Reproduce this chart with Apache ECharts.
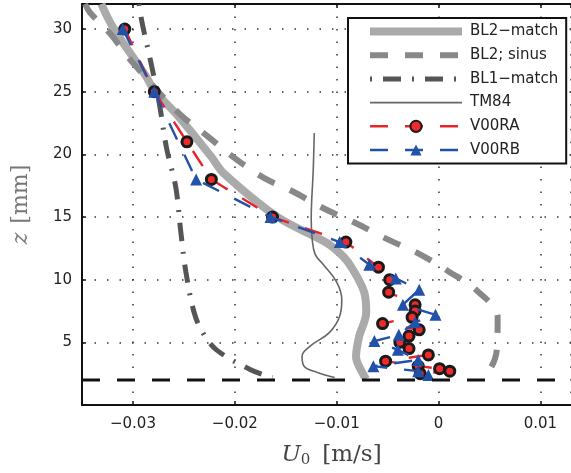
<!DOCTYPE html>
<html>
<head>
<meta charset="utf-8">
<script src="https://cdn.jsdelivr.net/npm/echarts@6/dist/echarts.min.js"></script>
<style>
  html, body { margin: 0; padding: 0; background: #ffffff; }
  #chart { width: 571px; height: 473px; }
</style>
</head>
<body>
<div id="chart"></div>
<script>
// Mean velocity profiles U0(z): model curves and measurements, [U0 (m/s), z (mm)]
const bl2Match = [
  [-0.0331, 32.0], [-0.0320, 30.2], [-0.0287, 26.2], [-0.0279, 25.1], [-0.0255, 23.0],
  [-0.0223, 19.8], [-0.0211, 18.5], [-0.0158, 15.0], [-0.0110, 12.95], [-0.0093, 11.8],
  [-0.0084, 10.8], [-0.0073, 9.0], [-0.0071, 7.4], [-0.0078, 5.45], [-0.0081, 3.85],
  [-0.0075, 2.6], [-0.0071, 2.05]
];
const bl2Sinus = [
  [-0.0347, 32.0], [-0.0342, 31.3], [-0.0323, 29.7], [-0.0300, 27.3], [-0.0255, 23.3],
  [-0.0226, 21.4], [-0.0200, 19.7], [-0.0171, 18.1], [-0.0142, 17.0], [-0.0113, 15.7],
  [-0.0081, 14.5], [-0.0052, 13.3], [-0.0020, 12.1], [0.0009, 10.7], [0.0038, 9.1],
  [0.0058, 7.0], [0.0057, 4.3], [0.0047, 2.3], [0.0042, 2.0]
];
const bl1Match = [
  [-0.0294, 32.0], [-0.0291, 30.5], [-0.0282, 27.2], [-0.0274, 24.0], [-0.0267, 20.5],
  [-0.0258, 17.4], [-0.0253, 13.8], [-0.0248, 10.6], [-0.0240, 7.4], [-0.0232, 5.86],
  [-0.0218, 4.4], [-0.0184, 2.8], [-0.0163, 2.2]
];
const tm84 = [
  [-0.0122, 21.7], [-0.0123, 18.8], [-0.0125, 14.8], [-0.0124, 13.2], [-0.0121, 12.0],
  [-0.0113, 11.2], [-0.0100, 9.8], [-0.0095, 8.4], [-0.0097, 7.1], [-0.0107, 5.8],
  [-0.0126, 4.7], [-0.0134, 3.9], [-0.0132, 3.1], [-0.0119, 2.6], [-0.0102, 2.2]
];
const v00ra = [
  [-0.0308, 30.0], [-0.0279, 25.0], [-0.0247, 21.0], [-0.0223, 18.0], [-0.0163, 15.0],
  [-0.0091, 13.0], [-0.0059, 11.0], [-0.0048, 10.0], [-0.0049, 9.0], [-0.0023, 8.0],
  [-0.0023, 7.5], [-0.0026, 7.0], [-0.0055, 6.5], [-0.0019, 6.0], [-0.0029, 5.5],
  [-0.0038, 5.0], [-0.0029, 4.5], [-0.0010, 4.0], [-0.0052, 3.5], [-0.0020, 3.1],
  [0.0001, 2.9], [0.0011, 2.7], [-0.0018, 2.5]
];
const v00rb = [
  [-0.0310, 30.0], [-0.0279, 25.0], [-0.0238, 18.0], [-0.0165, 15.0], [-0.0097, 13.0],
  [-0.0068, 11.2], [-0.0042, 10.1], [-0.0019, 9.2], [-0.0035, 8.0], [-0.0003, 7.2],
  [-0.0023, 6.6], [-0.0039, 5.6], [-0.0063, 5.1], [-0.0040, 4.4], [-0.0020, 3.6],
  [-0.0064, 3.1], [-0.0020, 2.7], [-0.0010, 2.4]
];
// Bed level (z = 2 mm), spanning the whole axis
const bedLine = [[-0.035, 2], [0.013, 2]];

const xMin = -0.035, xMax = 0.013;
const zMin = 0, zMax = 32;

const tickFont = { fontFamily: 'DejaVu Sans', fontSize: 15, color: '#222' };
const dotted = { color: '#333', width: 1.5, type: [1.5, 11] };

function fmtU(v) {
  if (Math.abs(v) < 1e-9) return '0';
  return (v < 0 ? '\u2212' : '') + Math.abs(v).toFixed(2);
}

const chart = echarts.init(document.getElementById('chart'), null, { renderer: 'canvas' });

const noSymbolItem = { color: 'rgba(0,0,0,0)', borderWidth: 0 };

chart.setOption({
  animation: false,
  backgroundColor: '#ffffff',
  grid: { left: 82, top: 4, bottom: 68, right: -7, containLabel: false },
  legend: {
    orient: 'vertical',
    left: 348, top: 18,
    selectedMode: false,
    itemWidth: 92, itemHeight: 14, itemGap: 8.7,
    padding: [6, 8, 6, 18],
    borderColor: '#111', borderWidth: 2, backgroundColor: '#ffffff',
    lineStyle: { width: 'inherit', type: 'inherit', color: 'inherit', cap: 'butt' },
    textStyle: { fontFamily: 'DejaVu Sans', fontSize: 15, color: '#222', lineHeight: 14, padding: [0, 0, 0, 3] },
    data: ['BL2\u2212match', 'BL2; sinus', 'BL1\u2212match', 'TM84', 'V00RA', 'V00RB']
  },
  xAxis: [{
    type: 'value', min: xMin, max: xMax, splitNumber: 5, minInterval: 0.01, maxInterval: 0.01,
    position: 'bottom',
    axisLine: { show: true, onZero: false, lineStyle: { color: '#111', width: 2 } },
    axisTick: { show: true, inside: true, length: 4, lineStyle: { color: '#111', width: 1.5 } },
    axisLabel: { ...tickFont, margin: 12, formatter: fmtU, showMinLabel: false, showMaxLabel: false },
    splitLine: { show: true, lineStyle: dotted },
    name: '{i|U}{s|0}{n|[m/s]}',
    nameLocation: 'middle', nameGap: 38,
    nameTextStyle: {
      padding: [0, 0, 0, 10],
      rich: {
        i: { fontFamily: 'DejaVu Serif', fontStyle: 'italic', fontSize: 23, color: '#444' },
        s: { fontFamily: 'DejaVu Serif', fontSize: 15, color: '#444', padding: [10, 0, 0, 0] },
        n: { fontFamily: 'DejaVu Serif', fontSize: 23, color: '#444', padding: [0, 0, 0, 12] }
      }
    }
  }, {
    type: 'value', min: xMin, max: xMax, splitNumber: 5, minInterval: 0.01, maxInterval: 0.01,
    position: 'top',
    axisLine: { show: true, onZero: false, lineStyle: { color: '#111', width: 2 } },
    axisTick: { show: true, inside: true, length: 4, lineStyle: { color: '#111', width: 1.5 } },
    axisLabel: { show: false },
    splitLine: { show: false }
  }],
  yAxis: {
    type: 'value', min: zMin, max: zMax, interval: 5,
    axisLine: { show: true, onZero: false, lineStyle: { color: '#111', width: 2 } },
    axisTick: { show: true, inside: true, length: 4, lineStyle: { color: '#111', width: 1.5 } },
    axisLabel: { ...tickFont, margin: 10, showMinLabel: false, showMaxLabel: false },
    splitLine: { show: true, lineStyle: dotted },
    name: '{i|z}{n|[mm]}',
    nameLocation: 'middle', nameRotate: 90, nameGap: 50,
    nameTextStyle: {
      rich: {
        i: { fontFamily: 'DejaVu Serif', fontStyle: 'italic', fontSize: 22, color: '#777' },
        n: { fontFamily: 'DejaVu Serif', fontSize: 22, color: '#777', padding: [0, 0, 0, 9] }
      }
    }
  },
  series: [
    {
      name: 'BL2\u2212match', type: 'line', data: bl2Match, smooth: 0.35, symbol: 'none',
      lineStyle: { color: '#aaaaaa', width: 8 }, itemStyle: noSymbolItem, z: 2
    },
    {
      name: 'BL2; sinus', type: 'line', data: bl2Sinus, smooth: 0.35, symbol: 'none',
      lineStyle: { color: '#888888', width: 6, type: [18, 17], cap: 'butt' }, itemStyle: noSymbolItem, z: 3
    },
    {
      name: 'BL1\u2212match', type: 'line', data: bl1Match, smooth: 0.35, symbol: 'none',
      lineStyle: { color: '#555555', width: 5, type: [2, 11, 18, 11], cap: 'butt' }, itemStyle: noSymbolItem, z: 4
    },
    {
      name: 'TM84', type: 'line', data: tm84, smooth: 0.4, symbol: 'none',
      lineStyle: { color: '#666666', width: 1.6 }, itemStyle: noSymbolItem, z: 5
    },
    {
      name: 'V00RA', type: 'line', data: v00ra, symbol: 'circle', symbolSize: 10,
      lineStyle: { color: '#e8242b', width: 2.4, type: [18, 17] },
      itemStyle: { color: '#ee2a2a', borderColor: '#1a1a1a', borderWidth: 3 }, z: 6
    },
    {
      name: 'V00RB', type: 'line', data: v00rb, symbol: 'triangle', symbolSize: 12,
      lineStyle: { color: '#2151a8', width: 2.4, type: [18, 17] },
      itemStyle: { color: '#2151a8', borderWidth: 0 }, z: 7
    },
    {
      name: 'bed', type: 'line', data: bedLine, symbol: 'none', silent: true,
      lineStyle: { color: '#111111', width: 3, type: [18, 17], cap: 'butt' }, z: 8
    }
  ]
});
</script>
</body>
</html>
